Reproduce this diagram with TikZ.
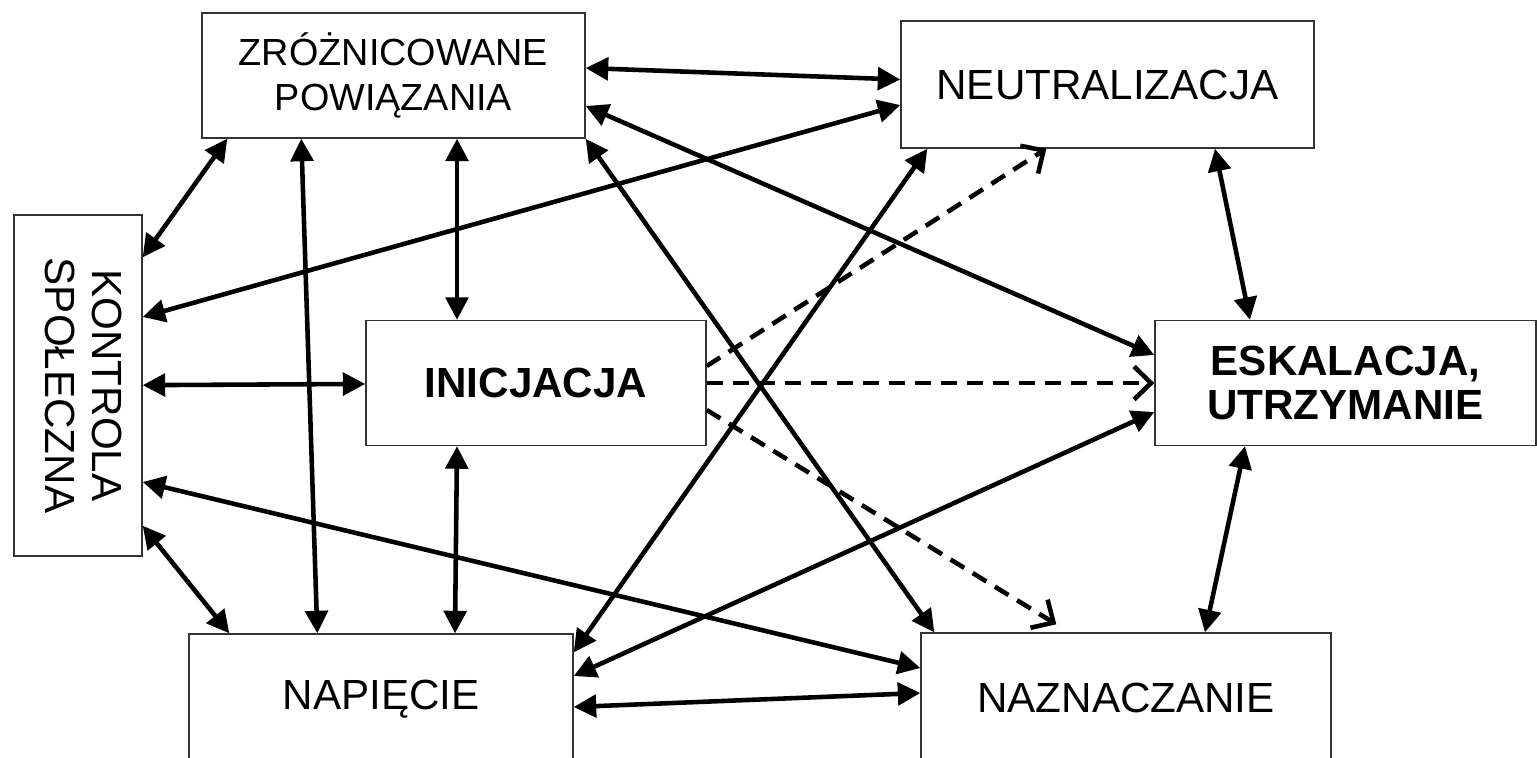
\documentclass[tikz,border=0pt]{standalone}
\usepackage{graphicx}
\usepackage{fontspec}
\setmainfont{Liberation Sans}
\usetikzlibrary{arrows.meta}

\tikzstyle{phase} = [rectangle, minimum height=2.5cm, text centered, align=center, draw=black!80, line width=0.8pt, font=\fontsize{24}{25}\selectfont]
\tikzstyle{keyphase} = [phase, font=\fontsize{24}{25}\selectfont\bfseries]
\tikzstyle{link} = [line width=2.6pt, <->, >={Triangle[length=0.45cm, width=0.45cm]}]
\tikzstyle{lead} = [line width=2.6pt, ->, dash pattern=on 0.32cm off 0.2cm, >={Straight Barb[length=0.34cm, width=0.66cm]}]

\begin{document}
\begin{tikzpicture}[node distance=2cm]
\useasboundingbox (0,0) rectangle (30.74,-15.14);

\node (ks) [phase, minimum width=2.56cm, minimum height=6.82cm] at (1.56,-7.71) {\rotatebox{-90}{\fontsize{24}{26.6}\selectfont\begin{tabular}{@{}c@{}}KONTROLA\\SPOŁECZNA\end{tabular}}};
\node (ini) [keyphase, minimum width=6.8cm, right of=ks, xshift=7.16cm, yshift=0.05cm] {INICJACJA};
\node (esk) [keyphase, minimum width=7.62cm, right of=ini, xshift=14.19cm] {ESKALACJA,\\UTRZYMANIE};
\node (zp) [phase, minimum width=7.66cm, above of=ini, xshift=-2.85cm, yshift=4.15cm, font=\fontsize{21.5}{25.5}\selectfont] {ZRÓŻNICOWANE\\POWIĄZANIA};
\node (neu) [phase, minimum width=8.26cm, minimum height=2.54cm, above of=esk, xshift=-4.76cm, yshift=3.97cm] {NEUTRALIZACJA};
\node (nap) [phase, minimum width=7.68cm, minimum height=2.6cm, below of=ini, xshift=-3.1cm, yshift=-4.32cm] {NAPIĘCIE};
\node (naz) [phase, minimum width=8.2cm, minimum height=2.6cm, below of=esk, xshift=-4.39cm, yshift=-4.3cm] {NAZNACZANIE};

% two-way links
\draw [link] ([yshift=0.15cm]zp.east) -- ([yshift=0.1cm]neu.west);
\draw [link] ([yshift=-0.41cm]neu.west) -- ([yshift=1.37cm]ks.east);
\draw [link] ([yshift=-0.61cm]zp.east) -- ([yshift=0.56cm]esk.west);
\draw [link] (zp.south east) -- ([xshift=0.28cm]naz.north west);
\draw [link] ([xshift=0.52cm]zp.south west) -- ([yshift=-0.86cm]ks.north east);
\draw [link] ([xshift=2cm]zp.south west) -- ([xshift=2.58cm]nap.north west);
\draw [link] ([xshift=1.27cm]zp.south) -- ([xshift=-1.58cm]ini.north);
\draw [link] (ks) -- (ini);
\draw [link] ([yshift=-1.93cm]ks.east) -- ([yshift=0.6cm]naz.west);
\draw [link] ([yshift=0.62cm]ks.south east) -- ([xshift=0.82cm]nap.north west);
\draw [link] ([xshift=-1.58cm]ini.south) -- ([xshift=1.48cm]nap.north);
\draw [link] ([yshift=-0.16cm]nap.east) -- ([yshift=0.1cm]naz.west);
\draw [link] ([yshift=-0.38cm]nap.north east) -- ([xshift=0.54cm]neu.south west);
\draw [link] ([yshift=0.46cm]nap.east) -- ([yshift=-0.58cm]esk.west);
\draw [link] ([xshift=2.15cm]neu.south) -- ([xshift=-1.91cm]esk.north);
\draw [link] ([xshift=-2.01cm]esk.south) -- ([xshift=1.58cm]naz.north);

% dashed leads out of the initiation
\draw [lead] ([yshift=0.34cm]ini.east) -- ([xshift=2.92cm]neu.south west);
\draw [lead] (ini) -- (esk);
\draw [lead] ([yshift=-0.54cm]ini.east) -- ([xshift=2.72cm, yshift=0.16cm]naz.north west);

\end{tikzpicture}
\end{document}
